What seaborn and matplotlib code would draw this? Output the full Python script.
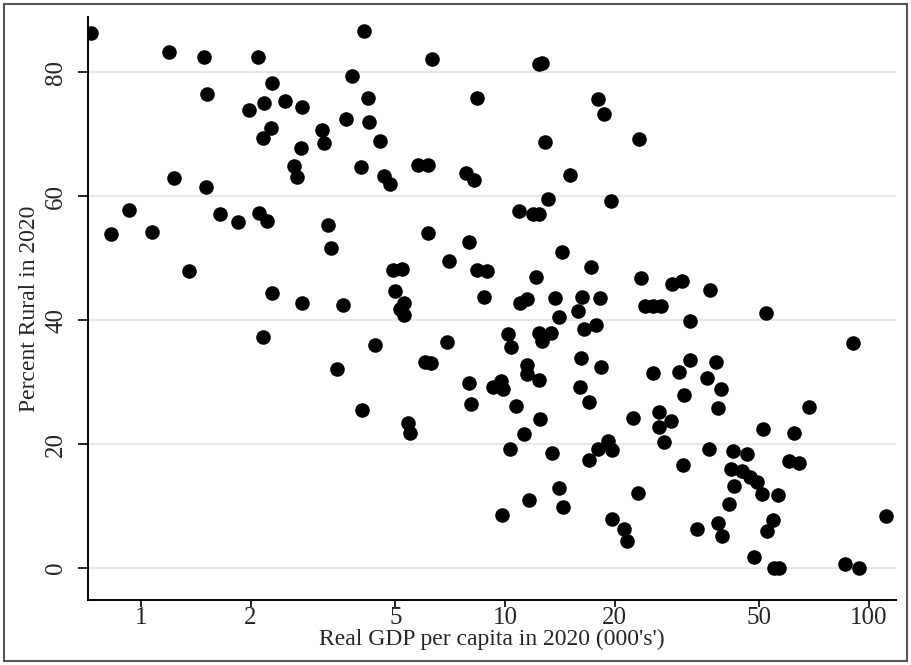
import matplotlib
matplotlib.use("Agg")
import matplotlib.pyplot as plt
from matplotlib.patches import Rectangle
from matplotlib.ticker import FixedLocator, NullLocator
import seaborn as sns
import pandas as pd

# Real GDP per capita in 2020 (thousands) and share of population living in rural areas
gdp_per_capita = [
    0.729, 0.827, 0.927, 1.072, 1.194, 1.232, 1.355, 1.490, 1.518, 1.509,
    1.648, 1.847, 1.980, 2.097, 2.177, 2.164, 2.276, 2.290, 2.110, 2.220,
    2.290, 2.164, 2.487, 2.770, 2.752, 2.633, 2.683, 2.770, 3.143, 3.182,
    3.264, 3.327, 3.456, 3.589, 3.658, 3.799, 4.022, 4.099, 4.204, 4.231,
    4.047, 4.394, 4.535, 4.651, 4.831, 4.924, 5.212, 4.987, 5.278, 5.146,
    5.278, 5.414, 5.483, 5.768, 6.144, 6.029, 6.263, 6.144, 6.302, 6.929,
    7.018, 7.814, 8.219, 7.964, 7.964, 8.066, 8.378, 8.378, 8.925, 8.757,
    9.269, 9.750, 9.874, 9.812, 10.19, 10.39, 10.32, 10.72, 10.93, 11.00,
    11.49, 11.28, 11.49, 11.49, 11.64, 11.94, 12.40, 12.17, 12.40, 12.64,
    12.40, 12.64, 13.38, 12.40, 12.48, 12.88, 13.13, 13.46, 13.72, 14.07,
    14.07, 14.34, 14.43, 15.09, 15.87, 16.18, 16.28, 16.48, 16.07, 17.01,
    17.01, 17.23, 17.78, 18.01, 18.71, 18.24, 18.35, 18.01, 19.19, 19.68,
    19.55, 19.68, 21.23, 21.64, 22.47, 23.20, 23.35, 23.64, 24.25, 25.51,
    26.83, 25.51, 26.49, 26.49, 27.35, 28.58, 28.76, 30.64, 30.06, 30.83,
    31.03, 32.23, 32.23, 33.69, 35.88, 36.58, 36.35, 37.99, 38.47, 38.47,
    39.21, 39.46, 41.25, 41.77, 42.30, 42.57, 44.78, 46.22, 47.10, 48.31,
    49.24, 50.82, 51.14, 52.12, 52.45, 54.48, 54.83, 56.23, 56.59, 60.29,
    62.23, 64.23, 68.43, 85.94, 90.36, 93.86, 111.4,
]
percent_rural = [
    86.3, 53.9, 57.7, 54.2, 83.2, 62.9, 47.9, 82.4, 76.5, 61.5,
    57.1, 55.8, 73.9, 82.4, 75.0, 69.4, 71.0, 78.2, 57.3, 56.0,
    44.4, 37.3, 75.3, 74.4, 67.7, 64.8, 63.1, 42.7, 70.6, 68.5,
    55.3, 51.6, 32.1, 42.4, 72.4, 79.4, 64.7, 86.6, 75.8, 71.9,
    25.5, 36.0, 68.9, 63.2, 61.9, 48.1, 48.2, 44.7, 42.7, 41.8,
    40.8, 23.4, 21.8, 65.0, 65.0, 33.2, 33.1, 54.0, 82.1, 36.5,
    49.5, 63.7, 62.6, 52.6, 29.8, 26.5, 75.8, 48.1, 47.9, 43.7,
    29.2, 30.2, 28.9, 8.5, 37.7, 35.6, 19.2, 26.1, 57.6, 42.7,
    43.4, 21.6, 32.7, 31.3, 11.0, 57.1, 57.1, 46.9, 81.3, 81.5,
    37.9, 36.6, 37.9, 30.3, 24.0, 68.7, 59.5, 18.5, 43.5, 40.5,
    12.9, 51.0, 9.8, 63.4, 41.5, 33.9, 43.7, 38.5, 29.2, 26.8,
    17.4, 48.5, 39.2, 75.6, 73.2, 43.5, 32.4, 19.2, 20.5, 19.0,
    59.2, 7.9, 6.3, 4.4, 24.2, 12.1, 69.2, 46.8, 42.3, 42.3,
    42.3, 31.5, 25.2, 22.7, 20.3, 23.7, 45.8, 46.3, 31.6, 16.6,
    27.9, 39.8, 33.5, 6.3, 30.6, 44.8, 19.2, 33.2, 25.8, 7.3,
    28.9, 5.2, 10.3, 16.0, 18.9, 13.2, 15.6, 18.4, 14.7, 1.8,
    13.9, 11.9, 22.4, 41.1, 6.0, 7.7, 0.0, 11.8, 0.0, 17.3,
    21.8, 16.9, 26.0, 0.6, 36.3, 0.0, 8.4,
]

x_ticks = [1, 2, 5, 10, 20, 50, 100]
x_tick_labels = ["1", "2", "5", "10", "20", "50", "100"]
y_ticks = [0, 20, 40, 60, 80]
y_tick_labels = ["0", "20", "40", "60", "80"]

df = pd.DataFrame({"gdp": gdp_per_capita, "rural": percent_rural})

sns.set_style("white")
plt.rcParams["font.family"] = ["Liberation Serif", "DejaVu Serif"]

fig = plt.figure(figsize=(9.12, 6.65), dpi=100)
ax = fig.add_axes([88 / 912, 65 / 665, 808 / 912, 583 / 665])

ax.set_xscale("log")
ax.set_xlim(0.715, 118.6)
ax.set_ylim(-5.16, 88.9)

# horizontal grid lines under the points
for yv in y_ticks:
    ax.axhline(yv, color="#e8e8e8", linewidth=1.6, zorder=0)

sns.scatterplot(data=df, x="gdp", y="rural", ax=ax, s=110, color="black",
                linewidth=0, zorder=3, legend=False)

ax.xaxis.set_major_locator(FixedLocator(x_ticks))
ax.xaxis.set_minor_locator(NullLocator())
ax.set_xticklabels(x_tick_labels)
ax.set_yticks(y_ticks)
ax.set_yticklabels(y_tick_labels, rotation=90, va="center")

ax.tick_params(axis="x", direction="out", length=5, width=1.2, color="black",
               labelsize=18, pad=0, bottom=True)
ax.tick_params(axis="y", direction="out", length=7, width=1.2, color="black",
               labelsize=18, pad=8, left=True)

for side in ("top", "right"):
    ax.spines[side].set_visible(False)
for side in ("left", "bottom"):
    ax.spines[side].set_color("black")
    ax.spines[side].set_linewidth(1.4)

ax.set_xlabel("Real GDP per capita in 2020 (000's')", fontsize=17, labelpad=0)
ax.set_ylabel("Percent Rural in 2020", fontsize=17, labelpad=4)

# outline around the whole graph region
fig.patches.append(Rectangle((4 / 912, 4 / 665), 903 / 912, 657 / 665,
                             transform=fig.transFigure, fill=False,
                             edgecolor="#555555", linewidth=1.5))

fig.savefig("out.png", dpi=100, facecolor="white")
